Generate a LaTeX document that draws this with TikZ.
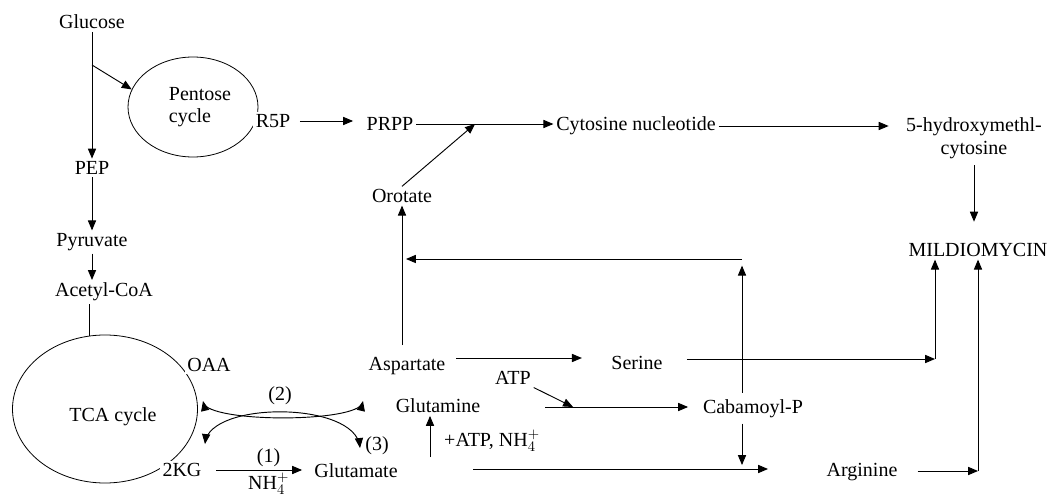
\documentclass[tikz,border=0pt]{standalone}
\usepackage{fontspec}
\setmainfont{Liberation Serif}
\usetikzlibrary{arrows}
\usetikzlibrary{shapes.geometric}

\begin{document}
\begin{tikzpicture}[x=0.75pt, y=-0.75pt, >={triangle 45},
  every node/.style={font=\fontsize{15}{17}\selectfont, inner sep=2pt},
  arr/.style={->, line width=0.7pt},
  link/.style={line width=0.7pt},
  cyc/.style={draw, ellipse, line width=0.6pt, inner sep=0pt}]

  \useasboundingbox (0,0) rectangle (1057,502);

  % Define nodes
  \node[cyc, minimum width=97.5pt, minimum height=75pt] (pent) at (193,107) {};
  \node[align=left] (penttxt) at (200,107) {Pentose\\cycle};
  \node[cyc, minimum width=138.75pt, minimum height=111pt] (tca) at (105,409) {};
  \node (tcatxt) at (113,417) {TCA cycle};
  \node (glucose) at (92,22) {Glucose};
  \node (pep) at (92,168) {PEP};
  \node (pyr) at (92,242) {Pyruvate};
  \node (acoa) at (104,292) {Acetyl-CoA};
  \node[fill=white] (r5p) at (273,121) {R5P};
  \node (prpp) at (390,124) {PRPP};
  \node (cytnuc) at (636,126) {Cytosine nucleotide};
  \node[align=center] (hmc) at (974,138) {5-hydroxymethl-\\cytosine};
  \node (mild) at (978,250) {MILDIOMYCIN};
  \node (orot) at (402,196) {Orotate};
  \node[fill=white] (oaa) at (209,365) {OAA};
  \node[fill=white] (kg) at (182,470) {2KG};
  \node (glu) at (356,471) {Glutamate};
  \node (asp) at (407,366) {Aspartate};
  \node (ser) at (637,363) {Serine};
  \node (atp) at (513,378) {ATP};
  \node (gln) at (438,406) {Glutamine};
  \node (atpnh) at (492,441) {+ATP, NH$_4^+$};
  \node (cab) at (753,409) {Cabamoyl-P};
  \node (arg) at (862,472) {Arginine};
  \node (two) at (280,396) {(2)};
  \node (three) at (377,446) {(3)};

  % Free ends and corners
  \coordinate (gb) at (92,65);
  \coordinate (pc) at (475,124);
  \coordinate (c1) at (742,259);
  \coordinate (c2) at (935,359);
  \coordinate (c3) at (978,471);
  \coordinate (g1) at (545,407);
  \coordinate (g2) at (573,407);
  \coordinate (g3) at (473,469);
  \coordinate (g4) at (768,469);
  \coordinate (g5) at (430,457);
  \coordinate (u1) at (203,401);
  \coordinate (u2) at (363,401);
  \coordinate (n1) at (205,444);
  \coordinate (n2) at (360,448);

  % Connect the nodes
  \draw[arr] (glucose) -- (pep);
  \draw[arr] (gb) -- (pent.164);
  \draw[arr] (pep) -- (pyr);
  \draw[arr] (pyr) -- (pyr |- acoa.north);
  \draw[link] (tca.102 |- acoa.south) -- (tca.102);
  \draw[arr, shorten <=5pt, shorten >=8pt] (r5p) -- (r5p -| prpp.west);
  \draw[arr] (prpp) -- (prpp -| cytnuc.west);
  \draw[arr, shorten >=11pt] (cytnuc) -- (cytnuc -| hmc.west);
  \draw[arr, shorten <=3pt, shorten >=14pt] (hmc) -- (hmc |- mild.north);
  \draw[arr] (orot.north) -- (pc);
  \draw[arr, shorten <=7pt] (asp.north -| orot) -- (orot.south);
  \draw[arr, shorten >=3pt] (c1) -- (c1 -| orot);
  \draw[arr, shorten <=3pt, shorten >=5pt] (cab.north -| c1) -- (c1);
  \draw[arr, shorten <=6pt, shorten >=20pt] ([yshift=6pt]asp.east) -- ([yshift=6pt]asp.east -| ser.west);
  \draw[arr, shorten <=16pt] (ser.east |- c2) -- (c2);
  \draw[arr] (c2) -- (c2 |- mild.south);
  \draw[arr, shorten <=13pt] (arg.east |- c3) -- (c3);
  \draw[arr] (c3) -- (c3 |- mild.south);
  \draw[arr] (atp.south east) -- (g2);
  \draw[arr, shorten >=9pt] (g1) -- (g1 -| cab.west);
  \draw[arr, shorten <=2pt, shorten >=3pt] (cab.south -| c1) -- (c1 |- g3);
  \draw[arr] (g3) -- (g4);
  \draw[arr] (g5) -- (g5 |- gln.south);
  \draw[arr, shorten <=9pt, shorten >=7pt] (kg) -- node[pos=0.6, above] (one) {(1)} node[pos=0.6, below] (nh) {NH$_4^+$} (kg -| glu.west);
  \draw[arr, <->] (u1) .. controls (208,423) and (358,423) .. (u2);
  \draw[arr, <->] (n1) .. controls (210,401) and (355,401) .. (n2);

\end{tikzpicture}
\end{document}
